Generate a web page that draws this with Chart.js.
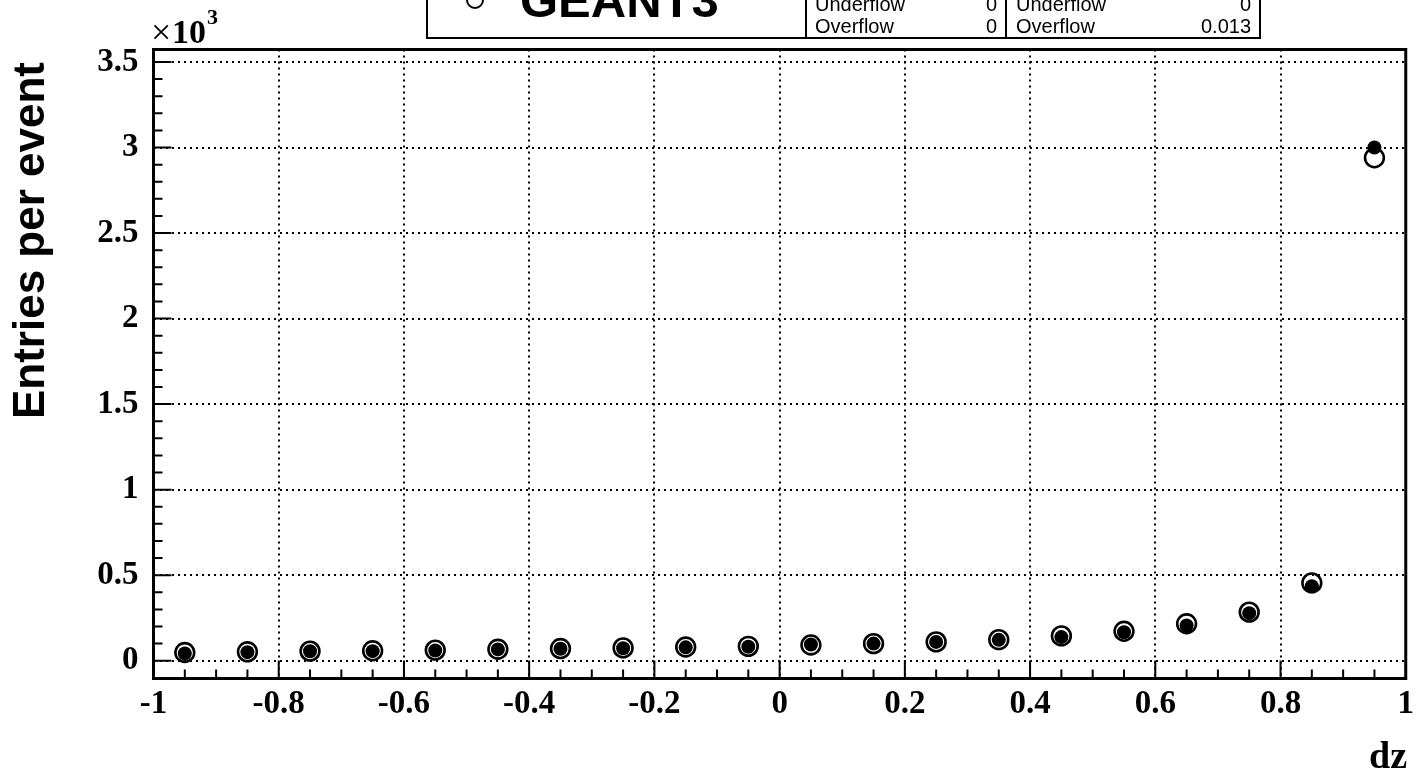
<!DOCTYPE html>
<html>
<head>
<meta charset="utf-8">
<script src="https://cdn.jsdelivr.net/npm/chart.js@4.4.1/dist/chart.umd.min.js"></script>
<style>
html,body{margin:0;padding:0;background:#fff;}
#wrap{position:relative;width:1420px;height:777px;}
</style>
</head>
<body>
<div id="wrap"><canvas id="myChart" width="1420" height="777"></canvas></div>
<script>
'use strict';
// bin centres along dz
let binCenters = [-0.95,-0.85,-0.75,-0.65,-0.55,-0.45,-0.35,-0.25,-0.15,-0.05,0.05,0.15,0.25,0.35,0.45,0.55,0.65,0.75,0.85,0.95];
// entries per event, filled markers
let dataValues = [42,50,55,56,60,66,70,73,78,82,95,100,110,122,138,166,206,278,435,3000];
// entries per event, open markers (GEANT3)
let geantValues = [48,52,56,58,62,67,71,75,80,84,92,100,110,123,145,172,216,284,455,2940];
// axis ticks
let xTicks = [-1,-0.8,-0.6,-0.4,-0.2,0,0.2,0.4,0.6,0.8,1];
let yTicks = [0,500,1000,1500,2000,2500,3000,3500];
// stats box rows
let statsRows = [['Underflow','0','Underflow','0'],['Overflow','0','Overflow','0.013']];

function makePoints(vals) {
  let pts = [];
  for (let i = 0; i < binCenters.length; i++) {
    pts.push({x: binCenters[i], y: vals[i]});
  }
  return pts;
}

function fmt(v) {
  return String(Math.round(v * 10) / 10);
}

// frame, inward ticks, titles and the legend/stats box
let rootFrame = {
  id: 'rootFrame',
  afterDraw(chart) {
    let ctx = chart.ctx;
    let a = chart.chartArea;
    let xs = chart.scales.x;
    let ys = chart.scales.y;
    ctx.save();
    ctx.strokeStyle = '#000';
    ctx.fillStyle = '#000';

    // ticks
    ctx.lineWidth = 2;
    ctx.beginPath();
    for (let v = 0; v <= 3500; v += 100) {
      let py = ys.getPixelForValue(v);
      let len = (v % 500 === 0) ? 18 : 9;
      ctx.moveTo(a.left, py);
      ctx.lineTo(a.left + len, py);
    }
    for (let k = -20; k <= 20; k++) {
      let px = xs.getPixelForValue(k * 0.05);
      let len = (k % 4 === 0) ? 18 : 9;
      ctx.moveTo(px, a.bottom);
      ctx.lineTo(px, a.bottom - len);
    }
    ctx.stroke();

    // frame
    ctx.lineWidth = 3;
    ctx.strokeRect(a.left, a.top, a.right - a.left, a.bottom - a.top);

    // y title
    ctx.save();
    ctx.translate(44, 62);
    ctx.rotate(-Math.PI / 2);
    ctx.font = 'bold 44px "Liberation Sans"';
    ctx.textAlign = 'right';
    ctx.textBaseline = 'alphabetic';
    ctx.fillText('Entries per event', 0, 0);
    ctx.restore();

    // x title
    ctx.font = 'bold 38px "Liberation Serif"';
    ctx.textAlign = 'right';
    ctx.fillText('dz', 1407, 768);

    // exponent
    ctx.textAlign = 'left';
    ctx.font = '36px "Liberation Serif"';
    ctx.fillText('\u00d7', 151, 44);
    ctx.font = 'bold 34px "Liberation Serif"';
    ctx.fillText('10', 172, 43);
    ctx.font = 'bold 22px "Liberation Serif"';
    ctx.fillText('3', 207, 24);

    // legend + stats box
    ctx.fillStyle = '#fff';
    ctx.fillRect(427, -5, 833, 43);
    ctx.fillStyle = '#000';
    ctx.lineWidth = 2;
    ctx.strokeRect(427, -5, 833, 43);
    ctx.beginPath();
    ctx.moveTo(806, -5); ctx.lineTo(806, 38);
    ctx.moveTo(1006, -5); ctx.lineTo(1006, 38);
    ctx.stroke();

    ctx.lineWidth = 2;
    ctx.beginPath();
    ctx.arc(475, 0, 8, 0, Math.PI * 2);
    ctx.stroke();
    ctx.font = 'bold 49px "Liberation Sans"';
    ctx.fillText('GEANT3', 520, 17);

    ctx.font = '20px "Liberation Sans"';
    let rowY = [11, 33];
    for (let r = 0; r < statsRows.length; r++) {
      let row = statsRows[r];
      ctx.textAlign = 'left';
      ctx.fillText(row[0], 815, rowY[r]);
      ctx.fillText(row[2], 1016, rowY[r]);
      ctx.textAlign = 'right';
      ctx.fillText(row[1], 997, rowY[r]);
      ctx.fillText(row[3], 1251, rowY[r]);
    }
    ctx.restore();
  }
};

let ctx = document.getElementById('myChart').getContext('2d');
let chart = new Chart(ctx, {
  type: 'scatter',
  data: {
    datasets: [
      {
        label: 'data',
        data: makePoints(dataValues),
        pointRadius: 7,
        pointHoverRadius: 7,
        pointBackgroundColor: '#000',
        pointBorderWidth: 0,
        showLine: false
      },
      {
        label: 'GEANT3',
        data: makePoints(geantValues),
        pointRadius: 9.4,
        pointHoverRadius: 9.4,
        pointBackgroundColor: 'rgba(0,0,0,0)',
        pointBorderColor: '#000',
        pointBorderWidth: 2.6,
        showLine: false
      }
    ]
  },
  options: {
    responsive: false,
    animation: false,
    devicePixelRatio: 1,
    layout: {padding: {left: 0, right: 11.5, top: 49.5, bottom: 0}},
    plugins: {legend: {display: false}, tooltip: {enabled: false}},
    scales: {
      x: {
        type: 'linear',
        min: -1,
        max: 1,
        afterFit(scale) { scale.height = 98.5; },
        afterBuildTicks(scale) { scale.ticks = xTicks.map(v => ({value: v})); },
        grid: {color: '#000', lineWidth: 2, drawTicks: false},
        border: {display: false, dash: [2, 4]},
        ticks: {
          color: '#000',
          padding: 6,
          maxRotation: 0,
          autoSkip: false,
          font: {family: 'Liberation Serif', weight: 'bold', size: 33},
          callback: v => fmt(v)
        }
      },
      y: {
        type: 'linear',
        min: -104,
        max: 3573,
        afterFit(scale) { scale.width = 153.5; },
        afterBuildTicks(scale) { scale.ticks = yTicks.map(v => ({value: v})); },
        grid: {color: '#000', lineWidth: 2, drawTicks: false},
        border: {display: false, dash: [2, 4]},
        ticks: {
          color: '#000',
          padding: 15,
          autoSkip: false,
          font: {family: 'Liberation Serif', weight: 'bold', size: 33},
          callback: v => fmt(v / 1000)
        }
      }
    }
  },
  plugins: [rootFrame]
});
</script>
</body>
</html>
